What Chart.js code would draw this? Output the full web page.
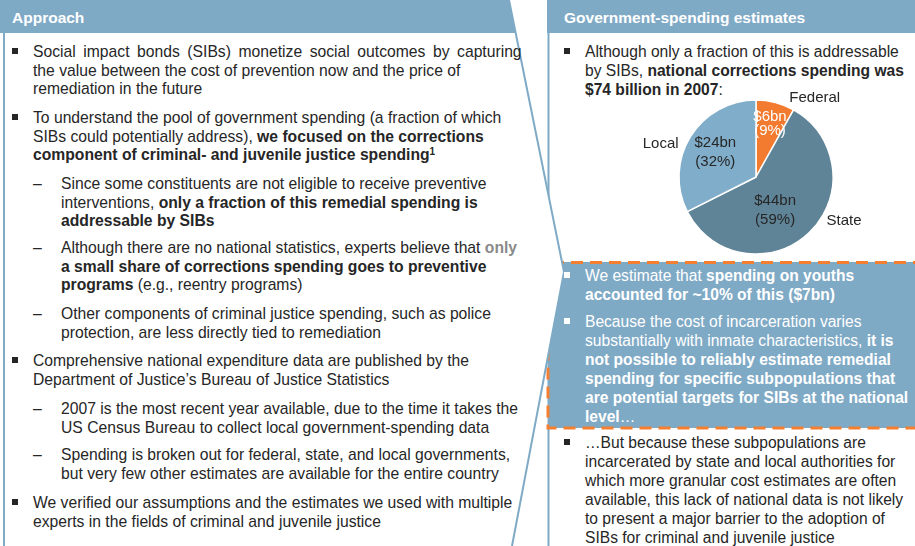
<!DOCTYPE html>
<html>
<head>
<meta charset="utf-8">
<script src="https://cdn.jsdelivr.net/npm/chart.js@4"></script>
<style>
  html, body { margin: 0; padding: 0; background: #fff; }
  body { width: 915px; height: 546px; position: relative; overflow: hidden;
         font-family: "Liberation Sans", Arial, sans-serif; color: #262626; }
  #shapes { position: absolute; left: 0; top: 0; }
  .hdr { position: absolute; top: 9px; color: #fff; font-weight: bold; font-size: 15.5px; white-space: nowrap; }
  .txt { position: absolute; white-space: nowrap; line-height: 18.6px; }
  .left { font-size: 15.7px; }
  .right { font-size: 15.6px; line-height: 18.9px; }
  .item { padding-left: 21px; }
  .item::before { content: ""; position: absolute; left: 0; top: 5px; width: 6px; height: 6px; background: #262626; }
  .box .item::before { background: #fff; }
  .box { color: #fff; }
  .sub { padding-left: 28px; }
  .sub::before { content: "\2013"; position: absolute; left: 0; top: 0; }
  b { font-weight: bold; }
  .grey { color: #8a8a8a; }
  .wide { word-spacing: 3.2px; }
  sup { font-size: 10px; vertical-align: 5px; line-height: 0; }
  #pieWrap { position: absolute; left: 636px; top: 92px; width: 240px; height: 170px; }
</style>
</head>
<body>
<svg id="shapes" width="915" height="546">
  <rect x="547" y="0" width="368" height="33" fill="#7faac6"/>
  <line x1="548.5" y1="33" x2="548.5" y2="546" stroke="#7faac6" stroke-width="2"/>
  <rect x="548" y="262" width="368" height="166" fill="#7faac6"/>
  <rect x="548" y="262.5" width="370" height="165.5" fill="none" stroke="#f47f30" stroke-width="3" stroke-dasharray="12 7" stroke-dashoffset="-4"/>
  <polygon points="0,0 509,0 564,272 512,546 0,546" fill="#fff"/>
  <polyline points="509,0 564,272 512,546" fill="none" stroke="#7faac6" stroke-width="2"/>
  <line x1="4" y1="33" x2="4" y2="546" stroke="#7faac6" stroke-width="2"/>
  <polygon points="0,0 509,0 515.6,33 0,33" fill="#7faac6"/>
</svg>

<div class="hdr" style="left:12px;">Approach</div>
<div class="hdr" style="left:564px;">Government-spending estimates</div>

<div class="txt left item" style="left:12px; top:43px;"><span class="wide">Social impact bonds (SIBs) monetize social outcomes by capturing</span><br>the value between the cost of prevention now and the price of<br>remediation in the future</div>
<div class="txt left item" style="left:12px; top:109px;">To understand the pool of government spending (a fraction of which<br>SIBs could potentially address), <b>we focused on the corrections<br>component of criminal- and juvenile justice spending<sup>1</sup></b></div>
<div class="txt left sub" style="left:33px; top:175px;">Since some constituents are not eligible to receive preventive<br>interventions, <b>only a fraction of this remedial spending is<br>addressable by SIBs</b></div>
<div class="txt left sub" style="left:33px; top:239px;">Although there are no national statistics, experts believe that <b class="grey">only</b><br><b>a small share of corrections spending goes to preventive<br>programs</b> (e.g., reentry programs)</div>
<div class="txt left sub" style="left:33px; top:305px;">Other components of criminal justice spending, such as police<br>protection, are less directly tied to remediation</div>
<div class="txt left item" style="left:12px; top:352px;">Comprehensive national expenditure data are published by the<br>Department of Justice’s Bureau of Justice Statistics</div>
<div class="txt left sub" style="left:33px; top:400px;">2007 is the most recent year available, due to the time it takes the<br>US Census Bureau to collect local government-spending data</div>
<div class="txt left sub" style="left:33px; top:446px;">Spending is broken out for federal, state, and local governments,<br>but very few other estimates are available for the entire country</div>
<div class="txt left item" style="left:12px; top:494px;">We verified our assumptions and the estimates we used with multiple<br>experts in the fields of criminal and juvenile justice</div>

<div class="txt right item" style="left:564px; top:43px;">Although only a fraction of this is addressable<br>by SIBs, <b>national corrections spending was<br>$74 billion in 2007</b>:</div>
<div class="box">
<div class="txt right item" style="left:564px; top:267px;">We estimate that <b>spending on youths<br>accounted for ~10% of this ($7bn)</b></div>
<div class="txt right item" style="left:564px; top:313px;">Because the cost of incarceration varies<br>substantially with inmate characteristics, <b>it is<br>not possible to reliably estimate remedial<br>spending for specific subpopulations that<br>are potential targets for SIBs at the national<br>level</b>…</div>
</div>
<div class="txt right item" style="left:564px; top:434px;">…But because these subpopulations are<br>incarcerated by state and local authorities for<br>which more granular cost estimates are often<br>available, this lack of national data is not likely<br>to present a major barrier to the adoption of<br>SIBs for criminal and juvenile justice</div>

<div id="pieWrap"><canvas id="pieChart"></canvas></div>

<script>
const levels = ['Federal', 'State', 'Local'];
const spendingBn = [6, 44, 24];
const sharePct = [9, 59, 32];
const sliceColors = ['#f27b2f', '#5f8497', '#80aeca'];

// label placement: angle shift (deg), radius factor, and pixel nudge
const valuePlace = [
    { da: 0, f: 0.72, dx: 0, dy: 1, color: '#fff', gap: 14 },
    { da: 14, f: 0.5, dx: 0, dy: 0, color: '#262626', gap: 19 },
    { da: 0, f: 0.62, dx: 0, dy: 0, color: '#262626', gap: 19 }
];
const namePlace = [
    { da: 22, f: 1.28 },
    { da: -19.5, f: 1.28 },
    { da: -12.5, f: 1.31 }
];

const pieLabels = {
    id: 'pieLabels',
    afterDatasetsDraw(chart) {
        const ctx = chart.ctx;
        const arcs = chart.getDatasetMeta(0).data;
        ctx.save();
        ctx.font = '15px "Liberation Sans", Arial, sans-serif';
        ctx.textAlign = 'center';
        ctx.textBaseline = 'middle';
        arcs.forEach((arc, i) => {
            const p = arc.getProps(['x', 'y', 'startAngle', 'endAngle', 'outerRadius']);
            const mid = (p.startAngle + p.endAngle) / 2;
            const v = valuePlace[i];
            const a = mid + v.da * Math.PI / 180;
            const vx = p.x + Math.cos(a) * p.outerRadius * v.f + v.dx;
            const vy = p.y + Math.sin(a) * p.outerRadius * v.f + v.dy;
            ctx.fillStyle = v.color;
            ctx.fillText('$' + spendingBn[i] + 'bn', vx, vy - v.gap / 2);
            ctx.fillText('(' + sharePct[i] + '%)', vx, vy + v.gap / 2);

            const n = namePlace[i];
            const b = mid + n.da * Math.PI / 180;
            ctx.fillStyle = '#262626';
            ctx.fillText(levels[i], p.x + Math.cos(b) * p.outerRadius * n.f, p.y + Math.sin(b) * p.outerRadius * n.f);
        });
        ctx.restore();
    }
};

new Chart(document.getElementById('pieChart').getContext('2d'), {
    type: 'pie',
    data: {
        labels: levels,
        datasets: [{
            data: spendingBn,
            backgroundColor: sliceColors,
            borderColor: '#ffffff',
            borderWidth: 1.5,
            radius: 77
        }]
    },
    options: {
        responsive: true,
        maintainAspectRatio: false,
        animation: false,
        layout: { padding: 0 },
        plugins: {
            legend: { display: false },
            tooltip: { enabled: false }
        }
    },
    plugins: [pieLabels]
});
</script>
</body>
</html>
